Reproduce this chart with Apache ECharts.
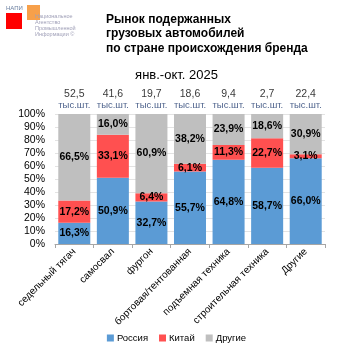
<!DOCTYPE html>
<html><head><meta charset="utf-8">
<script src="https://cdn.jsdelivr.net/npm/echarts@6/dist/echarts.min.js"></script>
<style>html,body{margin:0;padding:0;background:#fff}#c{width:353px;height:353px}</style>
</head><body><div id="c"></div>
<script>
var categories = ['седельный тягач','самосвал','фургон','бортовая/тентованная','подъемная техника','строительная техника','Другие'];
var russia = [16.3, 50.9, 32.7, 55.7, 64.8, 58.7, 66.0];
var china = [17.2, 33.1, 6.4, 6.1, 11.3, 22.7, 3.1];
var others = [66.5, 16.0, 60.9, 38.2, 23.9, 18.6, 30.9];
var totals = [52.5, 41.6, 19.7, 18.6, 9.4, 2.7, 22.4];
var yTicks = [0,10,20,30,40,50,60,70,80,90,100];

var F = 'Liberation Sans, Arial, sans-serif';
function fmt(v){ return v.toFixed(1).replace('.', ',') + '%'; }
var lbl = {show:true, position:'inside', color:'#000', fontWeight:'bold', fontSize:10.5, fontFamily:F,
  formatter:function(p){ return fmt(p.value); }};

var chart = echarts.init(document.getElementById('c'));
chart.setOption({
  animation:false,
  title:[{text:'Рынок подержанных\nгрузовых автомобилей\nпо стране происхождения бренда', left:106, top:12, padding:0,
    textStyle:{fontSize:12, fontWeight:'bold', fontFamily:F, color:'#000', lineHeight:14.5}},
    {text:'янв.-окт. 2025', left:'center', top:69, padding:0, textStyle:{fontSize:13, fontWeight:'normal', fontFamily:F, color:'#000'}}],
  graphic:[
    {type:'rect', shape:{x:6,y:13,width:16,height:16}, style:{fill:'#ff0000'}},
    {type:'rect', shape:{x:27,y:5,width:13,height:15}, style:{fill:'#f7a04a'}},
    {type:'text', left:6, top:5, style:{text:'НАПИ', fontSize:6, fill:'#6a7fa0', fontFamily:F}},
    {type:'text', left:35, top:13, style:{text:'Национальное\nАгентство\nПромышленной\nИнформации ©', fontSize:5.5, lineHeight:6, fill:'#a0a0b8', fontFamily:F}}
  ],
  legend:{bottom:5, left:'center', itemWidth:7, itemHeight:7, itemGap:11, icon:'rect',
    textStyle:{fontSize:9.5, fontFamily:F, color:'#000', padding:[0,0,0,-2]}, data:['Россия','Китай','Другие']},
  grid:{left:55, right:28, top:114, bottom:109},
  xAxis:{type:'category', data:categories,
    axisLine:{lineStyle:{color:'#a6a6a6'}}, axisTick:{show:true, length:4, lineStyle:{color:'#a6a6a6'}},
    axisLabel:{rotate:45, fontSize:10, fontFamily:F, color:'#000', margin:6, interval:0}},
  yAxis:{type:'value', min:0, max:100, interval:10,
    axisLine:{show:false}, axisTick:{show:false},
    splitLine:{lineStyle:{color:'#e3e3e3'}},
    axisLabel:{formatter:function(v){return v+'%';}, fontSize:10.5, fontFamily:F, color:'#000', margin:10}},
  series:[
    {name:'Россия', type:'bar', stack:'s', data:russia, barWidth:'83%', itemStyle:{color:'#5b9bd5'}, label:lbl},
    {name:'Китай', type:'bar', stack:'s', data:china, itemStyle:{color:'#ff5050'}, label:lbl},
    {name:'Другие', type:'bar', stack:'s', data:others, itemStyle:{color:'#bfbfbf'}, label:lbl},
    {name:'total', type:'scatter', data:totals.map(function(t){return 100;}), symbolSize:0, silent:true,
      label:{show:true, position:'top', distance:3, fontFamily:F,
        formatter:function(p){ return '{a|' + totals[p.dataIndex].toFixed(1).replace('.', ',') + '}\n{b|тыс.шт.}'; },
        rich:{a:{fontSize:10.5, color:'#000', lineHeight:12, align:'center'}, b:{fontSize:9.5, color:'#1f3a6e', lineHeight:11, align:'center'}}}}
  ]
});
</script></body></html>
